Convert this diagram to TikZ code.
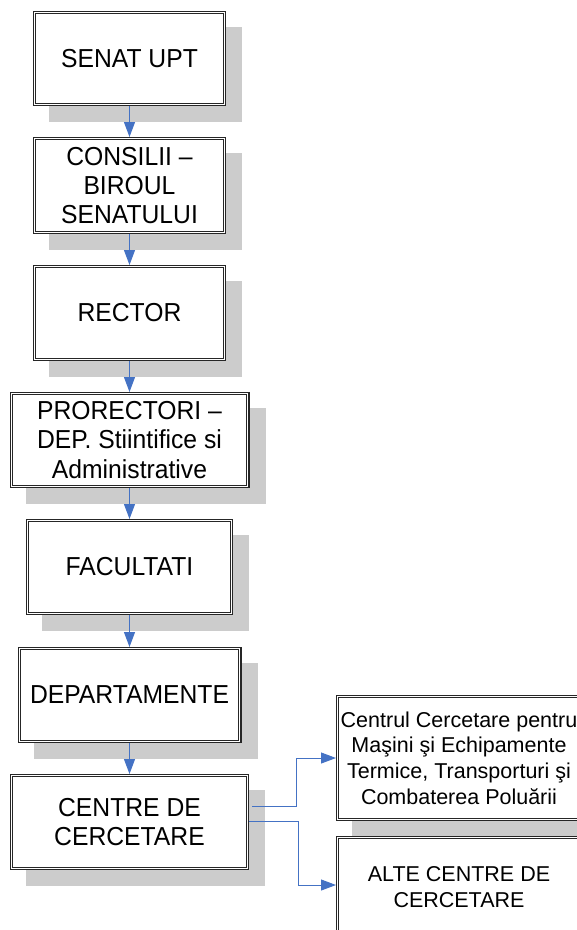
\documentclass[tikz,border=0pt]{standalone}
\usepackage{fontspec}
\setmainfont{Liberation Sans}
\newfontfamily\leftf[FakeStretch=0.95]{Liberation Sans}
\usetikzlibrary{arrows.meta,backgrounds}
\definecolor{shadowc}{RGB}{204,204,204}
\definecolor{linkc}{RGB}{68,114,196}
\begin{document}
\begin{tikzpicture}[x=1pt,y=-1pt,
  box/.style={draw=black!85, fill=white, double=white, double distance=1.2pt,
    line width=1.1pt, inner sep=0pt, outer sep=1.7pt, align=center,
    font=\leftf\fontsize{26}{29.3}\selectfont},
  rbox/.style={box, font=\fontsize{21.5}{25.7}\selectfont},
  conn/.style={draw=linkc, line width=1pt, -{Triangle[length=15pt,width=11pt]}},
  shadow/.style={fill=shadowc}]
\useasboundingbox (0,0) rectangle (577,930);
\clip (0,0) rectangle (577,930);

\node[box, minimum width=189.6pt, minimum height=91.6pt] (n1) at (129.5,58.5) {SENAT UPT};
\node[box, minimum width=189.6pt, minimum height=93.6pt] (n2) at (129.5,185.5) {CONSILII –\\BIROUL\\SENATULUI};
\node[box, minimum width=189.6pt, minimum height=92.6pt] (n3) at (129.5,313) {RECTOR};
\node[box, minimum width=236.6pt, minimum height=92.6pt] (n4) at (129.5,440) {PRORECTORI –\\DEP. Stiintifice si\\Administrative};
\node[box, minimum width=203.6pt, minimum height=92.6pt] (n5) at (129.5,567) {FACULTATI};
\node[box, minimum width=220.6pt, minimum height=92.6pt] (n6) at (129.5,695) {DEPARTAMENTE};
\node[box, minimum width=235.6pt, minimum height=92.6pt] (n7) at (129.5,822) {CENTRE DE\\CERCETARE};
\node[rbox, minimum width=242.6pt, minimum height=122.6pt] (r1) at (459,758) {Centrul Cercetare pentru\\Maşini şi Echipamente\\Termice, Transporturi şi\\Combaterea Poluării};
\node[rbox, minimum width=242.6pt, minimum height=98.6pt] (r2) at (459,887) {ALTE CENTRE DE\\CERCETARE};

\begin{scope}[on background layer]
  \foreach \n in {n1,n2,n3,n4,n5,n6,n7,r1,r2}
    \fill[shadow] ([shift={(16,16)}]\n.north west) rectangle ([shift={(16,16)}]\n.south east);
\end{scope}

\draw[conn] (n1.south) -- (n2.north);
\draw[conn] (n2.south) -- (n3.north);
\draw[conn] (n3.south) -- (n4.north);
\draw[conn] (n4.south) -- (n5.north);
\draw[conn] (n5.south) -- (n6.north);
\draw[conn] (n6.south) -- (n7.north);
\draw[conn] ([xshift=3pt,yshift=16pt]n7.east) -- ++(44,0) |- (r1.west);
\draw[conn] ([yshift=1pt]n7.east) -- ++(49,0) |- ([yshift=2pt]r2.west);
\end{tikzpicture}
\end{document}
